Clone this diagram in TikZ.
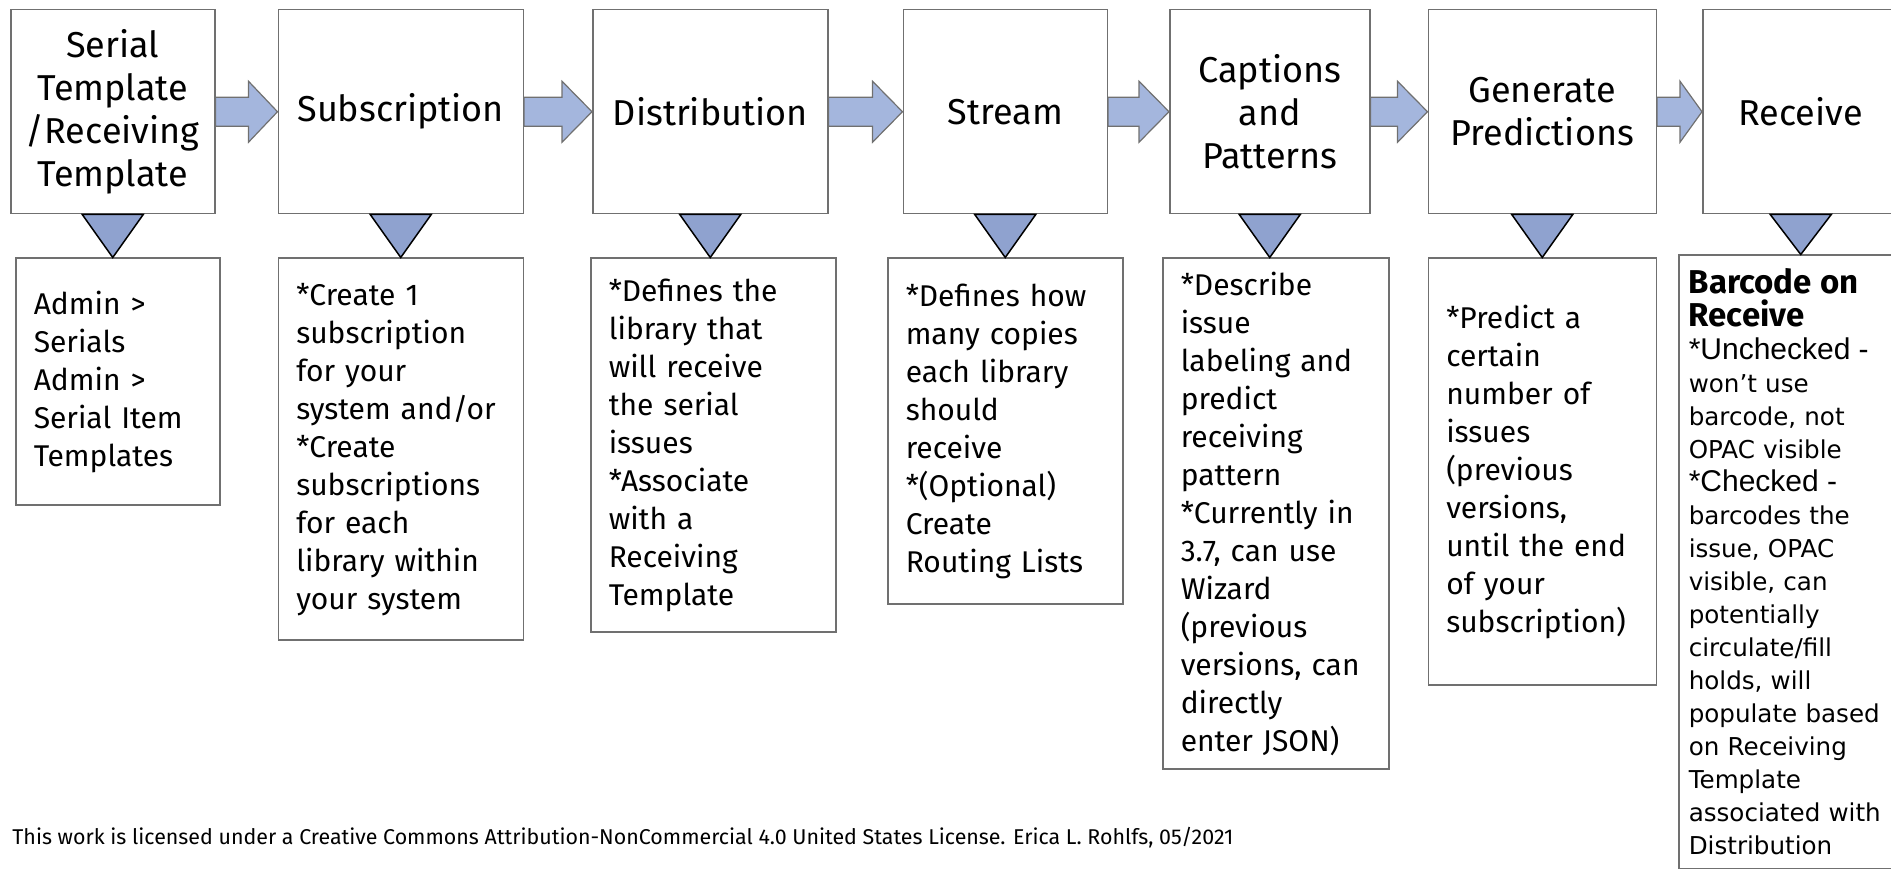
\documentclass[tikz,border=0pt]{standalone}
\usepackage{fontspec}
\setmainfont{Fira Sans}
\newfontfamily\dejavu{DejaVu Sans}
\newfontfamily\arialish{Liberation Sans}
\usepackage{xcolor}
\usetikzlibrary{calc}
\usetikzlibrary{positioning}

\definecolor{boxline}{RGB}{112,112,112}
\definecolor{flowblue}{RGB}{164,182,221}
\definecolor{tripurple}{RGB}{143,162,207}

\begin{document}
\begin{tikzpicture}[x=0.5pt,y=-0.5pt,node distance=21.5pt,line join=miter]
 \tikzstyle{stage}=[draw=boxline, line width=0.75pt, fill=white, minimum height=102pt, align=center, inner sep=0pt, font=\fontsize{18}{21.5}\selectfont]
 \tikzstyle{note}=[draw=boxline, line width=0.75pt, fill=white, align=left, inner xsep=9pt, inner ysep=0pt, font=\fontsize{15}{19}\selectfont]
 \tikzstyle{flow}=[draw=boxline, line width=0.6pt, fill=flowblue]
 \tikzstyle{drop}=[draw=black, line width=0.75pt, fill=tripurple]

 \useasboundingbox (0,0) rectangle (1891,876);

 % top row
 \node[stage, minimum width=102pt, anchor=north west] (t1) at (10,9) {Serial\\Template\\/Receiving\\Template};
 \node[stage, minimum width=122.5pt, right=31pt of t1] (t2) {Subscription};
 \node[stage, minimum width=117.5pt, right=34pt of t2] (t3) {Distribution};
 \node[stage, minimum width=102pt, right=37pt of t3] (t4) {Stream};
 \node[stage, minimum width=100pt, right=30.5pt of t4] (t5) {Captions\\and\\Patterns};
 \node[stage, minimum width=114pt, right=28.5pt of t5] (t6) {Generate\\Predictions};
 \node[stage, minimum width=98pt, right=22.5pt of t6] (t7) {Receive};

 % notes under each step
 \node[note, text width=84pt, minimum height=123.5pt, below=21.5pt of t1, xshift=2.5pt] (l1)
   {Admin >\\Serials\\Admin >\\Serial Item\\Templates};
 \node[note, text width=104.5pt, minimum height=191pt, below=21.5pt of t2] (l2)
   {*Create 1\\subscription\\for your\\system and/or\\{}*Create\\subscriptions\\for each\\library within\\your system};
 \node[note, text width=104.5pt, minimum height=187pt, below=21.5pt of t3, xshift=1.5pt] (l3)
   {*Defines the\\library that\\will receive\\the serial\\issues\\{}*Associate\\with a\\Receiving\\Template};
 \node[note, text width=99.5pt, minimum height=173pt, below=21.5pt of t4] (l4)
   {*Defines how\\many copies\\each library\\should\\receive\\{}*(Optional)\\Create\\Routing Lists};
 \node[note, text width=95pt, minimum height=255.5pt, below=21.5pt of t5, xshift=3pt] (l5)
   {*Describe\\issue\\labeling and\\predict\\receiving\\pattern\\{}*Currently in\\3.7, can use\\Wizard\\(previous\\versions, can\\directly\\enter JSON)};
 \node[note, text width=96pt, minimum height=213.5pt, below=21.5pt of t6] (l6)
   {*Predict a\\certain\\number of\\issues\\(previous\\versions,\\until the end\\of your\\subscription)};
 \node[note, text width=98pt, inner xsep=5pt, minimum height=306.5pt, below=20pt of t7, xshift=-7pt, font=\dejavu\fontsize{12.3}{16.5}\selectfont] (l7)
   {{\rmfamily\bfseries\fontsize{16.5}{16.5}\selectfont Barcode on\\Receive}\\
    {\arialish\fontsize{15}{16.5}\selectfont *Unchecked -}\\
    won’t use\\barcode, not\\OPAC visible\\
    {\arialish\fontsize{15}{16.5}\selectfont *Checked -}\\
    barcodes the\\issue, OPAC\\visible, can\\potentially\\circulate/fill\\holds, will\\populate based\\on Receiving\\Template\\associated with\\Distribution};

 % block arrows between steps
 \foreach \a/\b/\h in {t1/t2/29, t2/t3/30, t3/t4/30, t4/t5/30, t5/t6/30, t6/t7/22}
   \draw[flow] ($(\a.east)+(0,-14.5)$) -- ($(\b.west)+(-\h,-14.5)$) -- ($(\b.west)+(-\h,-30.5)$)
     -- (\b.west) -- ($(\b.west)+(-\h,30.5)$) -- ($(\b.west)+(-\h,14.5)$) -- ($(\a.east)+(0,14.5)$) -- cycle;

 % down triangles
 \foreach \n in {1,...,7}
   \draw[drop] ($(t\n.south)+(-30.5,0)$) -- ($(t\n.south)+(30.5,0)$) -- (t\n.south |- l\n.north) -- cycle;

 \node[anchor=west, inner sep=0pt, font=\fontsize{10.7}{12}\selectfont] (lic) at (12,838)
   {This work is licensed under a Creative Commons Attribution-NonCommercial 4.0 United States License. Erica L. Rohlfs, 05/2021};
\end{tikzpicture}
\end{document}
